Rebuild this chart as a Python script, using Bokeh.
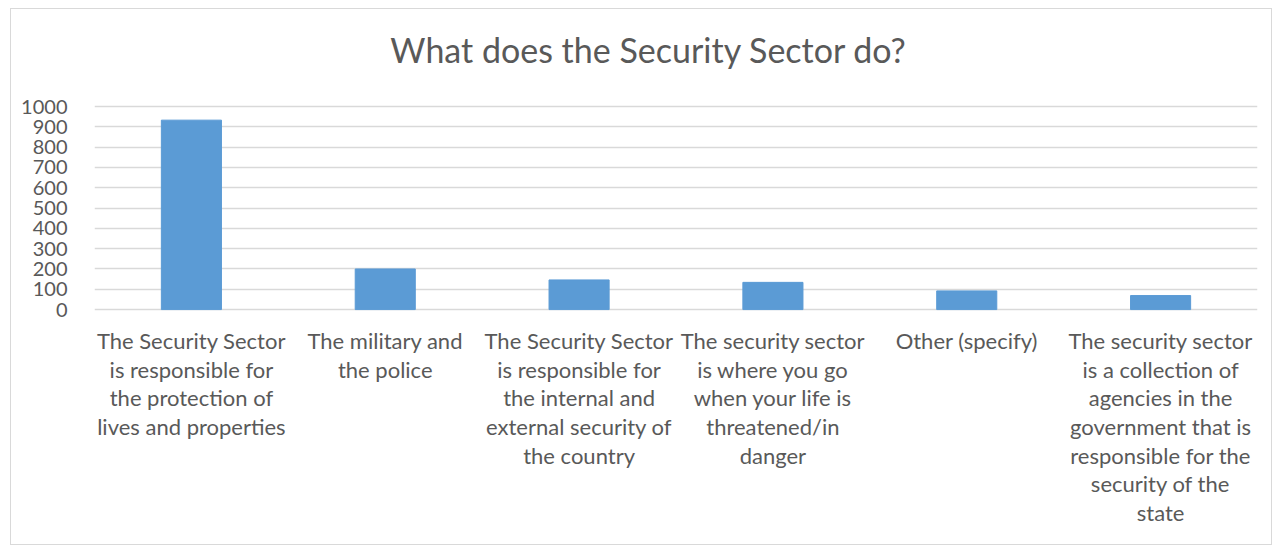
from bokeh.plotting import figure
from bokeh.embed import file_html
from bokeh.resources import INLINE
from bokeh.models import FixedTicker, ColumnDataSource, Range1d
from bokeh.core.properties import value

title_text = "What does the Security Sector do?"
categories = [
    "The Security Sector\nis responsible for\nthe protection of\nlives and properties",
    "The military and\nthe police",
    "The Security Sector\nis responsible for\nthe internal and\nexternal security of\nthe country",
    "The security sector\nis where you go\nwhen your life is\nthreatened/in\ndanger",
    "Other (specify)",
    "The security sector\nis a collection of\nagencies in the\ngovernment that is\nresponsible for the\nsecurity of the\nstate",
]
values = [933, 200, 146, 134, 92, 69]
y_ticks = [0, 100, 200, 300, 400, 500, 600, 700, 800, 900, 1000]

p = figure(x_range=categories, y_range=Range1d(-1167, 1478), width=1262, height=537,
           output_backend="svg", toolbar_location=None,
           min_border_left=83, min_border_right=16, min_border_top=0, min_border_bottom=0)
p.margin = (8, 0, 0, 10)
p.styles = {"border": "1px solid #d9d9d9", "box-sizing": "border-box"}

src = ColumnDataSource(dict(cat=categories, val=values, ly=[-87] * len(categories)))
p.vbar(x="cat", top="val", width=0.31, color="#5b9bd5", source=src)

p.text(x="cat", y="ly", text="cat", source=src, text_align="center",
       text_baseline="top", text_font=value("Lato"), text_font_size="22px",
       text_color="#595959", text_line_height=1.06)

p.text(x=[2.86], y=[1281], text=[title_text], text_align="center",
       text_baseline="alphabetic", text_font=value("Lato"), text_font_size="34px",
       text_color="#595959")

p.outline_line_color = None
p.background_fill_color = "white"
p.border_fill_color = "white"

p.xaxis.visible = False
p.xgrid.grid_line_color = None
p.ygrid.grid_line_color = "#d9d9d9"
p.ygrid.grid_line_width = 1.5
p.yaxis.ticker = FixedTicker(ticks=y_ticks)
p.yaxis.axis_line_color = None
p.yaxis.major_tick_line_color = None
p.yaxis.minor_tick_line_color = None
p.yaxis.major_label_standoff = 21
p.yaxis.major_label_text_font = "Lato"
p.yaxis.major_label_text_font_size = "20px"
p.yaxis.major_label_text_color = "#595959"

open("out.html", "w").write(file_html(p, INLINE))
